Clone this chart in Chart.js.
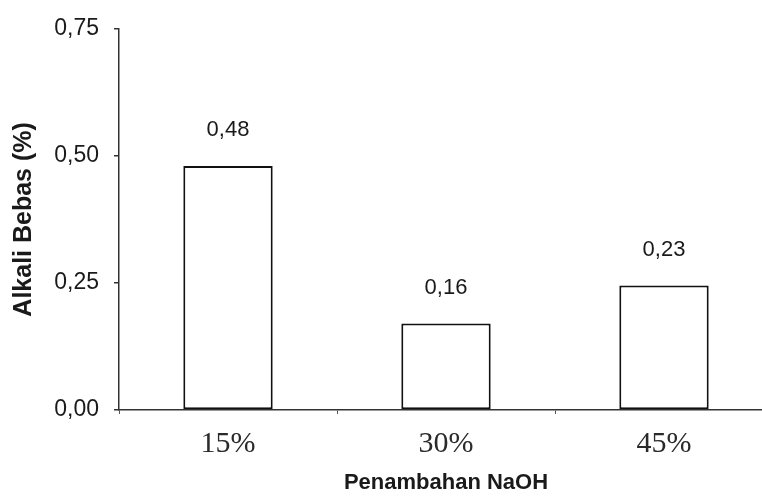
<!DOCTYPE html>
<html>
<head>
<meta charset="utf-8">
<script src="https://cdn.jsdelivr.net/npm/chart.js@4.4.1/dist/chart.umd.min.js"></script>
<style>
  html, body { margin: 0; padding: 0; background: #fff; overflow: hidden; width: 762px; height: 496px; }
  #wrap { width: 773px; height: 496px; }
</style>
</head>
<body>
<div id="wrap"><canvas id="c" width="773" height="496"></canvas></div>
<script>
// Data
const categories = ['15%', '30%', '45%'];
const alkaliBebas = [0.48, 0.17, 0.245];          // bar heights as drawn
const valueLabels = ['0,48', '0,16', '0,23'];     // printed value labels
const yTicks = [0, 0.25, 0.5, 0.75];

const fmt = v => v.toFixed(2).replace('.', ',');

const valueLabelPlugin = {
  id: 'valueLabels',
  afterDatasetsDraw(chart) {
    const ctx = chart.ctx;
    const meta = chart.getDatasetMeta(0);
    ctx.save();
    ctx.font = '22px "Liberation Sans", Arial, sans-serif';
    ctx.fillStyle = '#1a1a1a';
    ctx.textAlign = 'center';
    ctx.textBaseline = 'middle';
    meta.data.forEach((bar, i) => {
      ctx.fillText(valueLabels[i], bar.x, bar.y - 36);
    });
    ctx.restore();
  }
};

new Chart(document.getElementById('c'), {
  type: 'bar',
  data: {
    labels: categories,
    datasets: [{
      data: alkaliBebas,
      backgroundColor: '#ffffff',
      borderColor: '#111',
      borderWidth: 2,
      borderSkipped: false,
      categoryPercentage: 1,
      barPercentage: 0.41
    }]
  },
  options: {
    responsive: false,
    animation: false,
    layout: { padding: { top: 25, left: 0, right: 0, bottom: 0 } },
    plugins: { legend: { display: false }, tooltip: { enabled: false } },
    scales: {
      y: {
        min: 0, max: 0.75,
        afterBuildTicks: s => { s.ticks = yTicks.map(v => ({ value: v })); },
        afterFit: s => { s.width = 119; },
        ticks: {
          callback: v => fmt(v),
          font: { family: '"Liberation Sans", Arial, sans-serif', size: 23 },
          color: '#1a1a1a',
          padding: 15
        },
        grid: { drawOnChartArea: false, drawTicks: true, tickLength: 5, color: '#333', lineWidth: 1.5 },
        border: { display: true, color: '#333', width: 1.5 },
        title: {
          display: true,
          text: 'Alkali Bebas (%)',
          font: { family: '"Liberation Sans", Arial, sans-serif', size: 25, weight: 'bold' },
          color: '#1a1a1a',
          padding: { top: 9, bottom: 0 }
        }
      },
      x: {
        afterFit: s => { s.height = 86; },
        ticks: {
          font: { family: '"Liberation Serif", "Times New Roman", serif', size: 30 },
          color: '#2a2a2a',
          padding: 12
        },
        grid: { drawOnChartArea: false, drawTicks: true, tickLength: 4, color: '#555', lineWidth: 1, offset: true },
        border: { display: true, color: '#333', width: 1.5 },
        title: {
          display: true,
          text: 'Penambahan NaOH',
          font: { family: '"Liberation Sans", Arial, sans-serif', size: 22, weight: 'bold' },
          color: '#1a1a1a',
          padding: { top: 0, bottom: 0 }
        }
      }
    }
  },
  plugins: [valueLabelPlugin]
});
</script>
</body>
</html>
